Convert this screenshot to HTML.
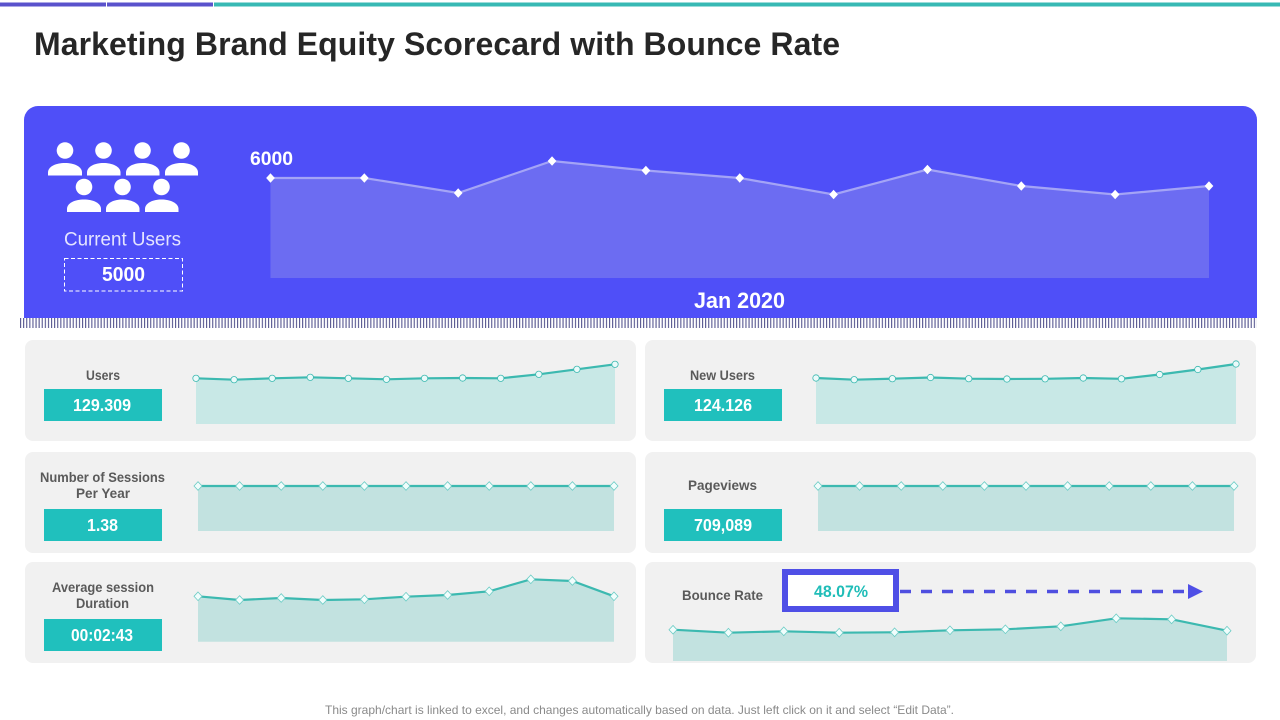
<!DOCTYPE html>
<html lang="en">
<head>
<meta charset="utf-8">
<title>Marketing Brand Equity Scorecard with Bounce Rate</title>
<style>
html,body{margin:0;padding:0;background:#fff;width:1280px;height:720px;overflow:hidden}
svg{display:block;font-family:"Liberation Sans",sans-serif}
.lbl{font-size:14px;font-weight:700;fill:#5a5a5a;text-anchor:start}
.val{font-size:17.5px;font-weight:700;fill:#fff;text-anchor:start}
</style>
</head>
<body>
<svg id="page" width="1280" height="720" viewBox="0 0 1280 720">
  <defs>
    <pattern id="tickPattern" x="20" y="318" width="3.1" height="10" patternUnits="userSpaceOnUse">
      <rect x="0" y="0" width="1.1" height="10" fill="#55558f"></rect>
    </pattern>
  </defs>
  <rect x="0" y="2.5" width="106" height="4" fill="#5a52cc"></rect>
  <rect x="107" y="2.5" width="106" height="4" fill="#5a52cc"></rect>
  <rect x="214" y="2.5" width="1066" height="4" fill="#38b9b4"></rect>
  <text x="34" y="55" font-size="32" font-weight="700" fill="#262626" textLength="806" lengthAdjust="spacing">Marketing Brand Equity Scorecard with Bounce Rate</text>

  <path d="M24 318V120a14 14 0 0 1 14-14H1243a14 14 0 0 1 14 14V318Z" fill="#4f4ff8"></path>
  <rect x="20" y="318" width="1237" height="10" fill="url(#tickPattern)"></rect>

  <g fill="#fff">
    <g><circle cx="65" cy="150.5" r="8.3"></circle><path d="M48 175.500v-3c0-6 8-9.500 17-9.500s17 3.500 17 9.500v3Z"></path></g>
    <g><circle cx="103.500" cy="150.500" r="8.300"></circle><path d="M87 175.500v-3c0-6 8-9.500 16.500-9.500s17 3.500 17 9.500v3Z"></path></g>
    <g><circle cx="142.500" cy="150.500" r="8.300"></circle><path d="M126 175.500v-3c0-6 8-9.500 16.500-9.500s17 3.500 17 9.500v3Z"></path></g>
    <g><circle cx="181.500" cy="150.500" r="8.300"></circle><path d="M165 175.500v-3c0-6 8-9.500 16.500-9.500s16.500 3.500 16.500 9.500v3Z"></path></g>
    <g><circle cx="84" cy="187" r="8.300"></circle><path d="M67 212v-3c0-6 8-9.500 17-9.500s17 3.500 17 9.500v3Z"></path></g>
    <g><circle cx="122.500" cy="187" r="8.300"></circle><path d="M106 212v-3c0-6 8-9.500 16.500-9.500s17 3.500 17 9.500v3Z"></path></g>
    <g><circle cx="161.500" cy="187" r="8.300"></circle><path d="M145 212v-3c0-6 8-9.500 16.500-9.500s17 3.500 17 9.500v3Z"></path></g>
  </g>
  <text x="64" y="245.500" font-size="19.500" fill="#e4e4ff" textLength="117" lengthAdjust="spacingAndGlyphs">Current Users</text>
  <rect x="64.500" y="258.500" width="118" height="32.500" fill="none" stroke="#fff" stroke-width="1" stroke-dasharray="4 2.500"></rect>
  <text x="102" y="281" font-size="20" font-weight="700" fill="#fff" textLength="43" lengthAdjust="spacingAndGlyphs">5000</text>
  <text x="250" y="165" font-size="19.500" font-weight="700" fill="#fff" textLength="43" lengthAdjust="spacingAndGlyphs">6000</text>
  <text x="694" y="308" font-size="22" font-weight="700" fill="#fff" textLength="91" lengthAdjust="spacingAndGlyphs">Jan 2020</text>
  <g id="heroChart"></g>

  <rect x="25" y="340" width="611" height="101" rx="8" fill="#f1f1f1"></rect>
  <rect x="645" y="340" width="611" height="101" rx="8" fill="#f1f1f1"></rect>
  <rect x="25" y="452" width="611" height="101" rx="8" fill="#f1f1f1"></rect>
  <rect x="645" y="452" width="611" height="101" rx="8" fill="#f1f1f1"></rect>
  <rect x="25" y="562" width="611" height="101" rx="8" fill="#f1f1f1"></rect>
  <rect x="645" y="562" width="611" height="101" rx="8" fill="#f1f1f1"></rect>

  <text class="lbl" x="86" y="380" textLength="34" lengthAdjust="spacingAndGlyphs">Users</text>
  <rect x="44" y="389" width="118" height="32" fill="#20c0bd"></rect>
  <text class="val" x="73" y="411" textLength="58" lengthAdjust="spacingAndGlyphs">129.309</text>

  <text class="lbl" x="690" y="380" textLength="65" lengthAdjust="spacingAndGlyphs">New Users</text>
  <rect x="664" y="389" width="118" height="32" fill="#20c0bd"></rect>
  <text class="val" x="694" y="411" textLength="58" lengthAdjust="spacingAndGlyphs">124.126</text>

  <text class="lbl" x="40" y="482" textLength="125" lengthAdjust="spacingAndGlyphs">Number of Sessions</text>
  <text class="lbl" x="76" y="498" textLength="54" lengthAdjust="spacingAndGlyphs">Per Year</text>
  <rect x="44" y="509" width="118" height="32" fill="#20c0bd"></rect>
  <text class="val" x="87" y="531" textLength="31" lengthAdjust="spacingAndGlyphs">1.38</text>

  <text class="lbl" x="688" y="490" textLength="69" lengthAdjust="spacingAndGlyphs">Pageviews</text>
  <rect x="664" y="509" width="118" height="32" fill="#20c0bd"></rect>
  <text class="val" x="694" y="531" textLength="58" lengthAdjust="spacingAndGlyphs">709,089</text>

  <text class="lbl" x="52" y="592" textLength="102" lengthAdjust="spacingAndGlyphs">Average session</text>
  <text class="lbl" x="76" y="608" textLength="53" lengthAdjust="spacingAndGlyphs">Duration</text>
  <rect x="44" y="619" width="118" height="32" fill="#20c0bd"></rect>
  <text class="val" x="71" y="641" textLength="62" lengthAdjust="spacingAndGlyphs">00:02:43</text>

  <text class="lbl" x="682" y="600" textLength="81" lengthAdjust="spacingAndGlyphs">Bounce Rate</text>
  <rect x="785" y="572" width="111" height="37" fill="#fff" stroke="#4f4fe6" stroke-width="6"></rect>
  <text x="814" y="597" font-size="17" font-weight="700" fill="#20bdb8" textLength="54" lengthAdjust="spacingAndGlyphs">48.07%</text>
  <line x1="900" y1="591.500" x2="1188" y2="591.500" stroke="#4f4fe0" stroke-width="3.500" stroke-dasharray="11 10"></line>
  <path d="M1188 584L1203 591.500L1188 599Z" fill="#4f4fe6"></path>

  <g id="usersChart"></g>
  <g id="newUsersChart"></g>
  <g id="sessionsChart"></g>
  <g id="pageviewsChart"></g>
  <g id="durationChart"></g>
  <g id="bounceChart"></g>

  <text x="325" y="714" font-size="12" fill="#8a8a8a" textLength="629" lengthAdjust="spacingAndGlyphs">This graph/chart is linked to excel,  and changes automatically based on data. Just left click on it and select “Edit Data”.</text>
</svg>
<script>
var heroCategories = ['W1','W2','W3','W4','W5','W6','W7','W8','W9','W10','W11'];
var heroValues = [6000,6000,5100,7020,6450,6000,5010,6510,5520,5010,5520];
var monthCategories = ['M1','M2','M3','M4','M5','M6','M7','M8','M9','M10','M11','M12'];
var periodCategories = ['P1','P2','P3','P4','P5','P6','P7','P8','P9','P10','P11'];
var usersValues = [45.7,44.3,45.7,46.7,45.7,44.7,45.7,46,45.7,49.7,54.7,59.7];
var newUsersValues = [46,44.3,45.3,46.5,45.3,45,45.2,46,45.2,49.5,54.5,60];
var sessionsValues = [1.38,1.38,1.38,1.38,1.38,1.38,1.38,1.38,1.38,1.38,1.38];
var pageviewsValues = [709089,709089,709089,709089,709089,709089,709089,709089,709089,709089,709089];
var durationValues = [45.4,41.7,43.7,41.7,42.4,45,46.7,50.4,62.4,60.7,45.4];
var bounceValues = [49.6,44.9,47.1,44.9,45.5,48.7,50.3,55.0,67.7,66.1,48.07];

var SVG_NS = 'http://www.w3.org/2000/svg';

function linearScale(d0, d1, r0, r1) {
  return function (v) { return r0 + (v - d0) / (d1 - d0) * (r1 - r0); };
}

function drawSeries(parentId, categories, values, o) {
  var parent = document.getElementById(parentId);
  var x = linearScale(0, categories.length - 1, o.left, o.right);
  var y = linearScale(0, o.domainMax, o.bottom, o.top);
  var line = values.map(function (v, i) { return x(i).toFixed(1) + ' ' + y(v).toFixed(1); });

  var area = document.createElementNS(SVG_NS, 'path');
  area.setAttribute('d', 'M' + line.join('L') + 'L' + x(values.length - 1) + ' ' + y(0) + 'L' + x(0) + ' ' + y(0) + 'Z');
  area.setAttribute('fill', o.areaFill);
  
  
  parent.appendChild(area);

  var stroke = document.createElementNS(SVG_NS, 'path');
  stroke.setAttribute('d', 'M' + line.join('L'));
  stroke.setAttribute('fill', 'none');
  stroke.setAttribute('stroke', o.lineColor);
  stroke.setAttribute('stroke-width', '2.2');
  
  
  parent.appendChild(stroke);

  values.forEach(function (v, i) {
    var cx = x(i), cy = y(v), m;
    if (o.marker === 'circle') {
      m = document.createElementNS(SVG_NS, 'circle');
      m.setAttribute('cx', cx);
      m.setAttribute('cy', cy);
      m.setAttribute('r', '3.2');
    } else {
      var rx = o.markerSize, ry = o.markerSize + 0.3;
      m = document.createElementNS(SVG_NS, 'path');
      m.setAttribute('d', 'M' + cx + ' ' + (cy - ry) + 'L' + (cx + rx) + ' ' + cy + 'L' + cx + ' ' + (cy + ry) + 'L' + (cx - rx) + ' ' + cy + 'Z');
    }
    m.setAttribute('fill', o.markerFill);
    m.setAttribute('stroke', o.markerStroke);
    m.setAttribute('stroke-width', '0.8');
    
    
    parent.appendChild(m);
  });
}

drawSeries('heroChart', heroCategories, heroValues, {left:270.5, right:1209, top:158, bottom:278, domainMax:7200, areaFill:'#6c6cf2', lineColor:'#a4a4f6', marker:'diamond', markerSize:3.8, markerFill:'#ffffff', markerStroke:'#ffffff'});
drawSeries('usersChart', monthCategories, usersValues, {left:196, right:615, top:364, bottom:424, domainMax:60, areaFill:'#c8e8e6', lineColor:'#3cb9b0', marker:'circle', markerFill:'#eafafa', markerStroke:'#3cb9b0'});
drawSeries('newUsersChart', monthCategories, newUsersValues, {left:816, right:1236, top:364, bottom:424, domainMax:60, areaFill:'#c8e8e6', lineColor:'#3cb9b0', marker:'circle', markerFill:'#eafafa', markerStroke:'#3cb9b0'});
drawSeries('sessionsChart', periodCategories, sessionsValues, {left:198, right:614, top:486, bottom:531, domainMax:1.38, areaFill:'#c2e2e0', lineColor:'#3cb9b0', marker:'diamond', markerSize:4, markerFill:'#f0fdfc', markerStroke:'#6cccc5'});
drawSeries('pageviewsChart', periodCategories, pageviewsValues, {left:818, right:1234, top:486, bottom:531, domainMax:709089, areaFill:'#c2e2e0', lineColor:'#3cb9b0', marker:'diamond', markerSize:4, markerFill:'#f0fdfc', markerStroke:'#6cccc5'});
drawSeries('durationChart', periodCategories, durationValues, {left:198, right:614, top:579.3, bottom:641.7, domainMax:62.4, areaFill:'#c2e2e0', lineColor:'#3cb9b0', marker:'diamond', markerSize:4, markerFill:'#f0fdfc', markerStroke:'#6cccc5'});
drawSeries('bounceChart', periodCategories, bounceValues, {left:673, right:1227, top:618, bottom:661, domainMax:68.2, areaFill:'#c2e2e0', lineColor:'#3cb9b0', marker:'diamond', markerSize:4, markerFill:'#f0fdfc', markerStroke:'#6cccc5'});
</script>
</body>
</html>
